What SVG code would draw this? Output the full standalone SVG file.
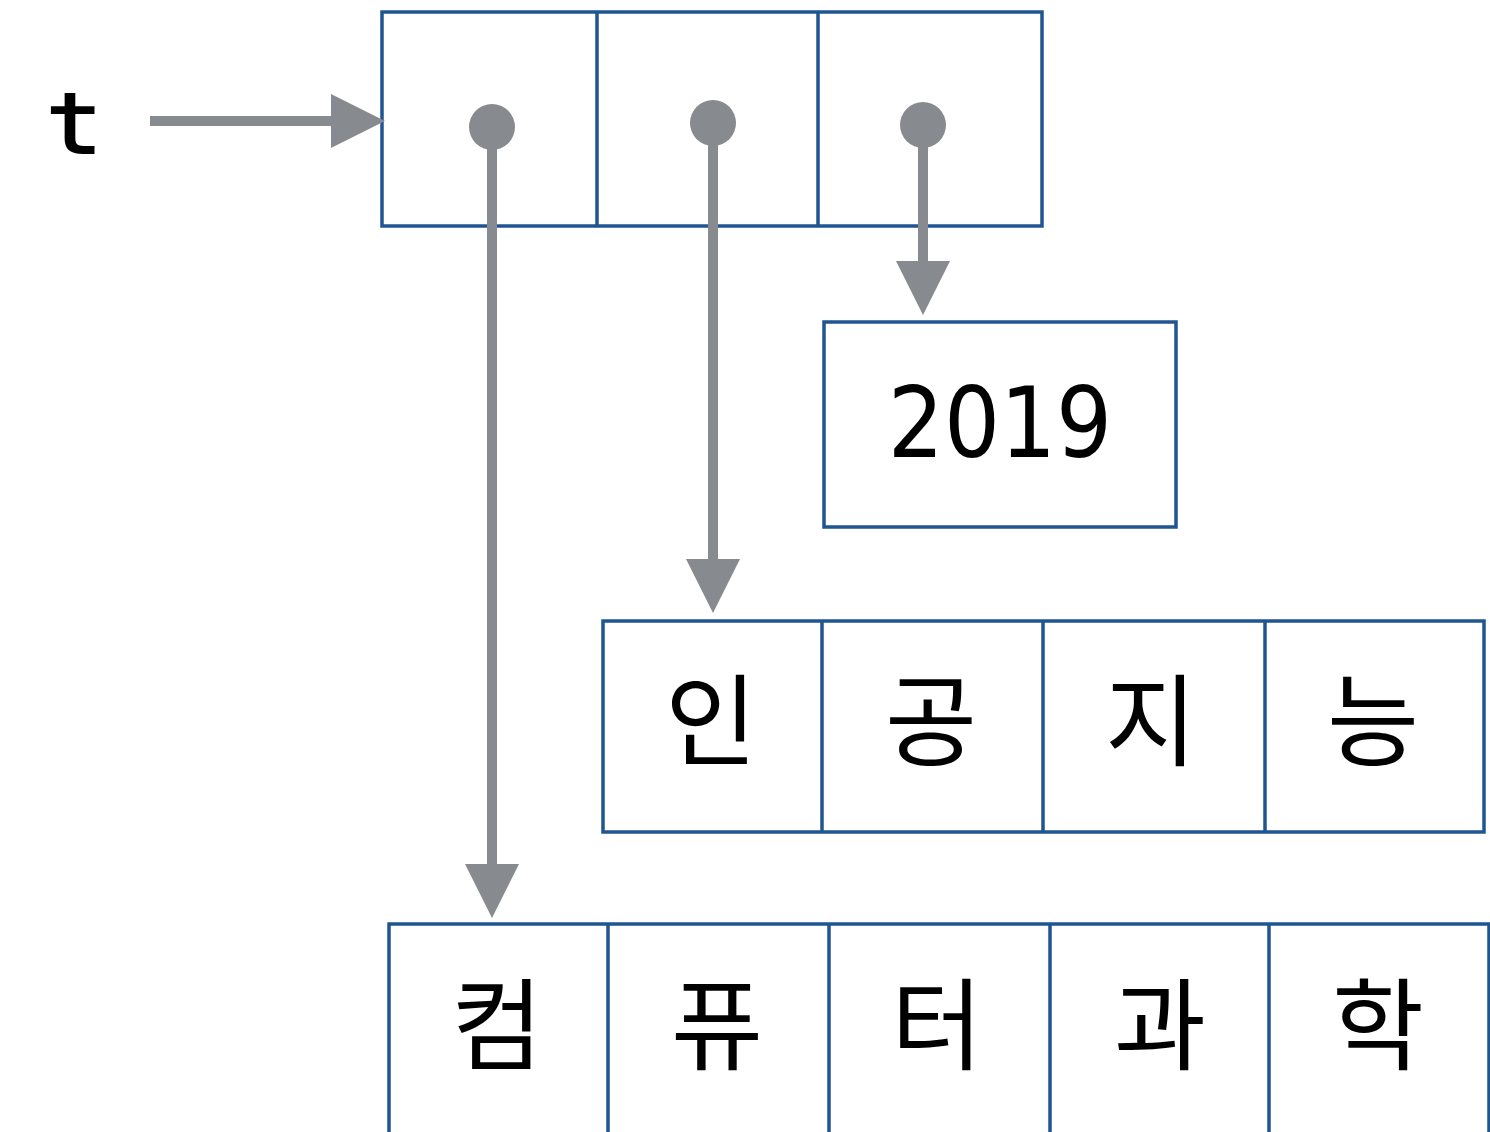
<svg xmlns="http://www.w3.org/2000/svg" width="1490" height="1132" viewBox="0 0 1490 1132">
<style>
.box{fill:#fff;stroke:#1f5591;stroke-width:3.5}
.div{stroke:#1f5591;stroke-width:3.5}
.ptr{stroke:#878a8f;stroke-width:10;fill:none}
.dot{fill:#878a8f}
.ko{font-family:"Noto Sans CJK KR","Noto Sans",sans-serif;font-size:100px;fill:#000;text-anchor:middle}
.num{font-family:"DejaVu Sans Condensed","DejaVu Sans",sans-serif;font-stretch:condensed;font-size:98px;fill:#000;text-anchor:middle}
.var{font-family:"DejaVu Sans Mono",monospace;font-size:84px;fill:#000;stroke:#000;stroke-width:2}
</style>
<defs>
<marker id="ah" markerUnits="userSpaceOnUse" markerWidth="56" markerHeight="56" refX="0" refY="27" orient="auto" viewBox="0 0 56 54">
<path d="M0,0 L54,27 L0,54 Z" fill="#878a8f"/>
</marker>
</defs>
<text class="var" x="46" y="153" transform="translate(46 0) scale(1.12 1) translate(-46 0)">t</text>
<g id="tuple">
<rect class="box" x="382" y="12" width="660" height="214"/>
<line class="div" x1="597" y1="12" x2="597" y2="226"/>
<line class="div" x1="818" y1="12" x2="818" y2="226"/>
</g>
<g id="year">
<rect class="box" x="824" y="322" width="352" height="205"/>
<text class="num" x="1000" y="457">2019</text>
</g>
<g id="ai">
<rect class="box" x="603" y="621" width="881" height="211"/>
<line class="div" x1="822" y1="621" x2="822" y2="832"/>
<line class="div" x1="1043" y1="621" x2="1043" y2="832"/>
<line class="div" x1="1265" y1="621" x2="1265" y2="832"/>
<text class="ko" x="711" y="758">인</text>
<text class="ko" x="931" y="758">공</text>
<text class="ko" x="1151" y="758">지</text>
<text class="ko" x="1373" y="758">능</text>
</g>
<g id="cs">
<rect class="box" x="389" y="924" width="1100" height="220"/>
<line class="div" x1="608" y1="924" x2="608" y2="1132"/>
<line class="div" x1="829" y1="924" x2="829" y2="1132"/>
<line class="div" x1="1050" y1="924" x2="1050" y2="1132"/>
<line class="div" x1="1269" y1="924" x2="1269" y2="1132"/>
<text class="ko" x="497" y="1062">컴</text>
<text class="ko" x="717" y="1062">퓨</text>
<text class="ko" x="937" y="1062">터</text>
<text class="ko" x="1160" y="1062">과</text>
<text class="ko" x="1378" y="1062">학</text>
</g>
<g id="connectors">
<line class="ptr" x1="150" y1="121" x2="331" y2="121" marker-end="url(#ah)"/>
<circle class="dot" cx="492" cy="127" r="23"/>
<line class="ptr" x1="492" y1="127" x2="492" y2="864" marker-end="url(#ah)"/>
<circle class="dot" cx="713" cy="123" r="23"/>
<line class="ptr" x1="713" y1="123" x2="713" y2="559" marker-end="url(#ah)"/>
<circle class="dot" cx="923" cy="125" r="23"/>
<line class="ptr" x1="923" y1="125" x2="923" y2="261" marker-end="url(#ah)"/>
</g>
</svg>
